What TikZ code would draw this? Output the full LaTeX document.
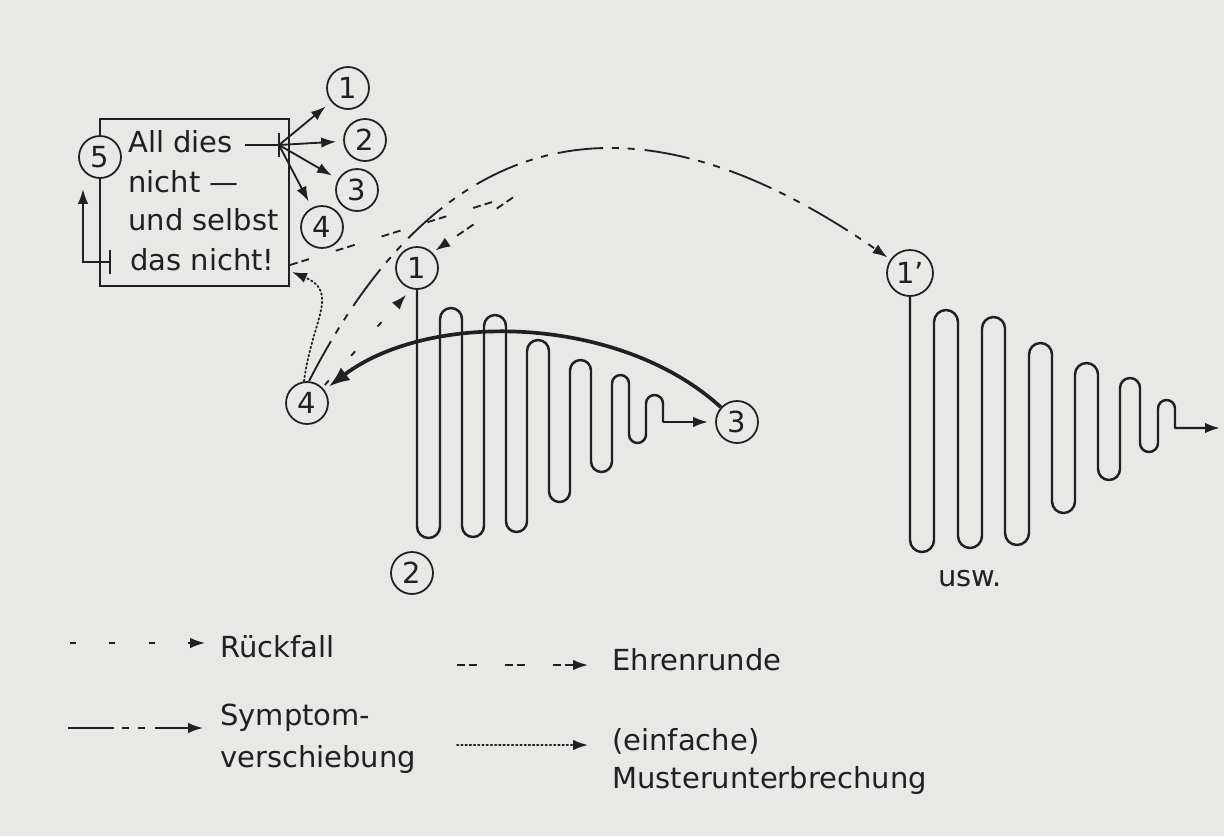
\documentclass[tikz,border=0pt]{standalone}
\usepackage{fontspec}
\setmainfont{DejaVu Sans}
\usetikzlibrary{arrows.meta,calc}

\definecolor{paper}{RGB}{232,232,230}
\definecolor{ink}{RGB}{32,32,32}

% one U-shaped bend (down, round, up) and one cap-shaped bend (up, round, down)
\newcommand\Uloop[3]{-- (#1,{#3-#2}) arc[start angle=180,end angle=0,radius=#2]}
\newcommand\Nloop[3]{-- (#1,{#3+#2}) arc[start angle=180,end angle=360,radius=#2]}

\begin{document}
\begin{tikzpicture}[x=0.02cm,y=-0.02cm,
  every node/.style={text=ink, font=\fontsize{16.5}{20}\selectfont},
  num/.style={circle, draw=ink, line width=1pt, fill=paper, minimum size=0.84cm, inner sep=0pt},
  txt/.style={inner sep=0pt, anchor=base west},
  ln/.style={draw=ink, line width=1.05pt},
  arrowtip/.style={-{Latex[length=8.5pt,width=6pt]}},
  wave/.style={draw=ink, line width=1.4pt, line join=round},
  backarc/.style={draw=ink, line width=2.1pt, -{Latex[length=12pt,width=9pt]}},
  rueck/.style={ln, arrowtip, dash pattern=on 3.4pt off 19pt},
  ehren/.style={ln, arrowtip, dash pattern=on 4.5pt off 2.3pt on 4.5pt off 16pt},
  symptom/.style={ln, arrowtip, dash pattern=on 26pt off 5pt on 4pt off 5pt on 4pt off 5.7pt},
  muster/.style={ln, arrowtip, line cap=round, dash pattern=on 0.8pt off 1.6pt},
]
\fill[paper] (0,0) rectangle (1224,836);
\useasboundingbox (0,0) rectangle (1224,836);

% ---- the box ----
\node[draw=ink, line width=1.1pt, minimum width=3.78cm, minimum height=3.34cm, inner sep=0pt] (box) at (194.5,202.5) {};
\node[num] (c5) at (100,157) {5};
\node[txt] (l1) at (128,152) {All dies};
\node[txt] (l2) at (128,192) {nicht —};
\node[txt] (l3) at (128,230) {und selbst};
\node[txt] (l4) at (130,270) {das nicht!};

% ---- small numbered circles beside the box ----
\node[num] (a1) at (348,88) {1};
\node[num] (a2) at (365,140) {2};
\node[num] (a3) at (357,190) {3};
\node[num] (a4) at (322,227) {4};

\coordinate (fork) at (279,145);
\draw[ln] (fork -| l1.east) ++(12,0) -- (fork);
\draw[ln] ($(fork)+(0,-12)$) -- ($(fork)+(0,12)$);
\foreach \t in {a1,a2,a3,a4}
  \draw[ln, arrowtip, shorten >=4pt] (fork) -- (\t);

% loop back from the last line to circle 5
\coordinate (tick4) at (110,262);
\coordinate (loopturn) at (83,262);
\coordinate (loopend) at (83,189);
\draw[ln] ($(tick4)+(0,-12)$) -- ($(tick4)+(0,12)$);
\draw[ln, arrowtip] (tick4) -- (loopturn) -- (loopend);

% ---- first oscillation ----
\node[num] (m1) at (417,268) {1};
\node[num] (m2) at (412,573) {2};
\node[num] (m3) at (737,422) {3};
\node[num] (m4) at (307,403) {4};

\draw[wave] (m1.south)
  \Uloop{417}{11.5}{538} \Nloop{440}{11}{308}
  \Uloop{462}{11}{537}   \Nloop{484}{11}{315}
  \Uloop{506}{10.5}{532} \Nloop{527}{11}{340}
  \Uloop{549}{10.5}{502} \Nloop{570}{10.5}{360}
  \Uloop{591}{10.5}{472} \Nloop{612}{8.5}{375}
  \Uloop{629}{8.5}{443}  \Nloop{646}{8.5}{395}
  -- (663,422) coordinate (w1end);
\draw[wave, arrowtip, shorten >=4pt] (w1end) -- (m3);

% ---- second oscillation ----
\node[num, minimum size=0.92cm] (n1) at (910,273) {1’};
\coordinate (w2end) at (1220,428);
\draw[wave, arrowtip] (n1.south)
  \Uloop{910}{12}{552}   \Nloop{934}{12}{310}
  \Uloop{958}{12}{548}   \Nloop{982}{11.5}{317}
  \Uloop{1005}{12}{545}  \Nloop{1029}{11.5}{343}
  \Uloop{1052}{11.5}{513} \Nloop{1075}{11.5}{363}
  \Uloop{1098}{11}{480}  \Nloop{1120}{10}{378}
  \Uloop{1140}{9}{452}   \Nloop{1158}{8.5}{400}
  -- (1175,428) -- (w2end);
\node[inner sep=0pt] (usw) at (970,579) {usw.};

% ---- connectors between the stages ----
\draw[backarc, shorten >=3pt] (m3) .. controls (620,315) and (430,310) .. (m4);
\draw[rueck, shorten <=2pt] (m4.north east) -- ($(m1.south)+(-11,5)$);
\draw[symptom, shorten >=2pt] ($(m4.north)+(2,0)$) .. controls (462,83) and (672,108) .. (n1);
\coordinate (mEnd) at (292,272);
\draw[muster] ($(m4.north)+(-3,0)$) .. controls (312,320) and (340,292) .. (mEnd);
\coordinate (eStart) at (290,265);
\coordinate (eTurn) at (518,194);
\draw[ehren, rounded corners=2.5pt, shorten >=2pt] (eStart) -- (eTurn) -- (m1.north east);

% ---- legend ----
\coordinate (k1a) at (70,643);  \coordinate (k1b) at (205,643);
\draw[rueck] (k1a) -- (k1b);
\node[txt] (k1t) at (220,657) {Rückfall};

\coordinate (k2a) at (457,665); \coordinate (k2b) at (588,665);
\draw[ehren] (k2a) -- (k2b);
\node[txt] (k2t) at (612,670) {Ehrenrunde};

\coordinate (k3a) at (68,728);  \coordinate (k3b) at (203,728);
\draw[symptom] (k3a) -- (k3b);
\node[txt] (k3t) at (220,725) {Symptom-};
\node[txt] (k3u) at (220,767) {verschiebung};

\coordinate (k4a) at (457,745); \coordinate (k4b) at (588,745);
\draw[muster] (k4a) -- (k4b);
\node[txt] (k4t) at (612,750) {(einfache)};
\node[txt] (k4u) at (612,788) {Musterunterbrechung};
\end{tikzpicture}
\end{document}
